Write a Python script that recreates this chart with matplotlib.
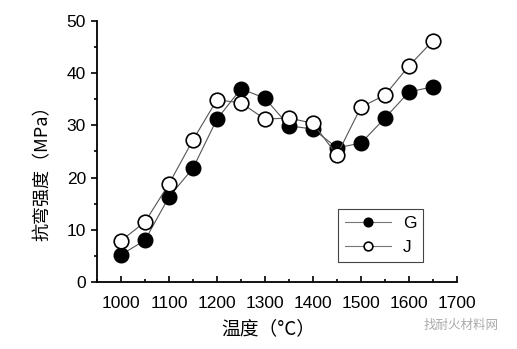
import numpy as np
import matplotlib.pyplot as plt
from matplotlib.ticker import MultipleLocator

plt.rcParams['font.family'] = ['Noto Sans CJK SC', 'DejaVu Sans']

# sintering temperature (C) and bending strength (MPa)
temp = [1000, 1050, 1100, 1150, 1200, 1250, 1300, 1350, 1400, 1450, 1500, 1550, 1600, 1650]
strength_G = [5.2, 8.0, 16.3, 21.8, 31.2, 37.0, 35.2, 29.9, 29.3, 25.7, 26.6, 31.4, 36.4, 37.4]
strength_J = [7.9, 11.5, 18.8, 27.2, 34.9, 34.3, 31.2, 31.4, 30.4, 24.3, 33.5, 35.8, 41.4, 46.2]
xticks = [1000, 1100, 1200, 1300, 1400, 1500, 1600, 1700]
yticks = [0, 10, 20, 30, 40, 50]

fig = plt.figure(figsize=(5.17, 3.49), dpi=100)
ax = fig.add_axes([0.1876, 0.192, 0.6963, 0.748])

ax.plot(temp, strength_G, '-o', color='#555555', lw=0.8, ms=10.5,
        mfc='black', mec='black', label='G')
ax.plot(temp, strength_J, '-o', color='#555555', lw=0.8, ms=10.5,
        mfc='white', mec='black', mew=1.2, label='J')

ax.set_xlim(950, 1700)
ax.set_ylim(0, 50)
ax.set_xticks(xticks)
ax.set_yticks(yticks)
ax.xaxis.set_minor_locator(MultipleLocator(50))
ax.yaxis.set_minor_locator(MultipleLocator(5))
ax.tick_params(axis='x', which='both', direction='in', pad=10)
ax.tick_params(axis='y', which='both', direction='out', pad=4)
ax.tick_params(which='both', width=1.2, labelsize=12.5,
               labelfontfamily='Liberation Sans')
ax.tick_params(which='major', length=4)
ax.tick_params(which='minor', length=2.5)
for s in ['top', 'right']:
    ax.spines[s].set_visible(False)
for s in ['left', 'bottom']:
    ax.spines[s].set_linewidth(1.3)

ax.set_xlabel('温度（°C）', fontsize=13.5)
ax.xaxis.set_label_coords(0.475, -0.14)
ax.set_ylabel('抗弯强度（MPa）', fontsize=13)
ax.yaxis.set_label_coords(-0.125, 0.433)

leg = ax.legend(loc='lower right', bbox_to_anchor=(0.906, 0.077),
                prop={'family': 'Liberation Sans', 'size': 12.5},
                markerscale=0.6, handlelength=2.6, handletextpad=0.7,
                fancybox=False, edgecolor='#444444', framealpha=1,
                borderpad=0.4, labelspacing=0.5, borderaxespad=0)
leg.get_frame().set_linewidth(0.8)
for h in leg.legend_handles:
    h.set_color('#777777')

fig.text(0.965, 0.068, '找耐火材料网', fontsize=9, color='#aaaaaa', ha='right', va='center')

fig.savefig('out.png', dpi=100)
